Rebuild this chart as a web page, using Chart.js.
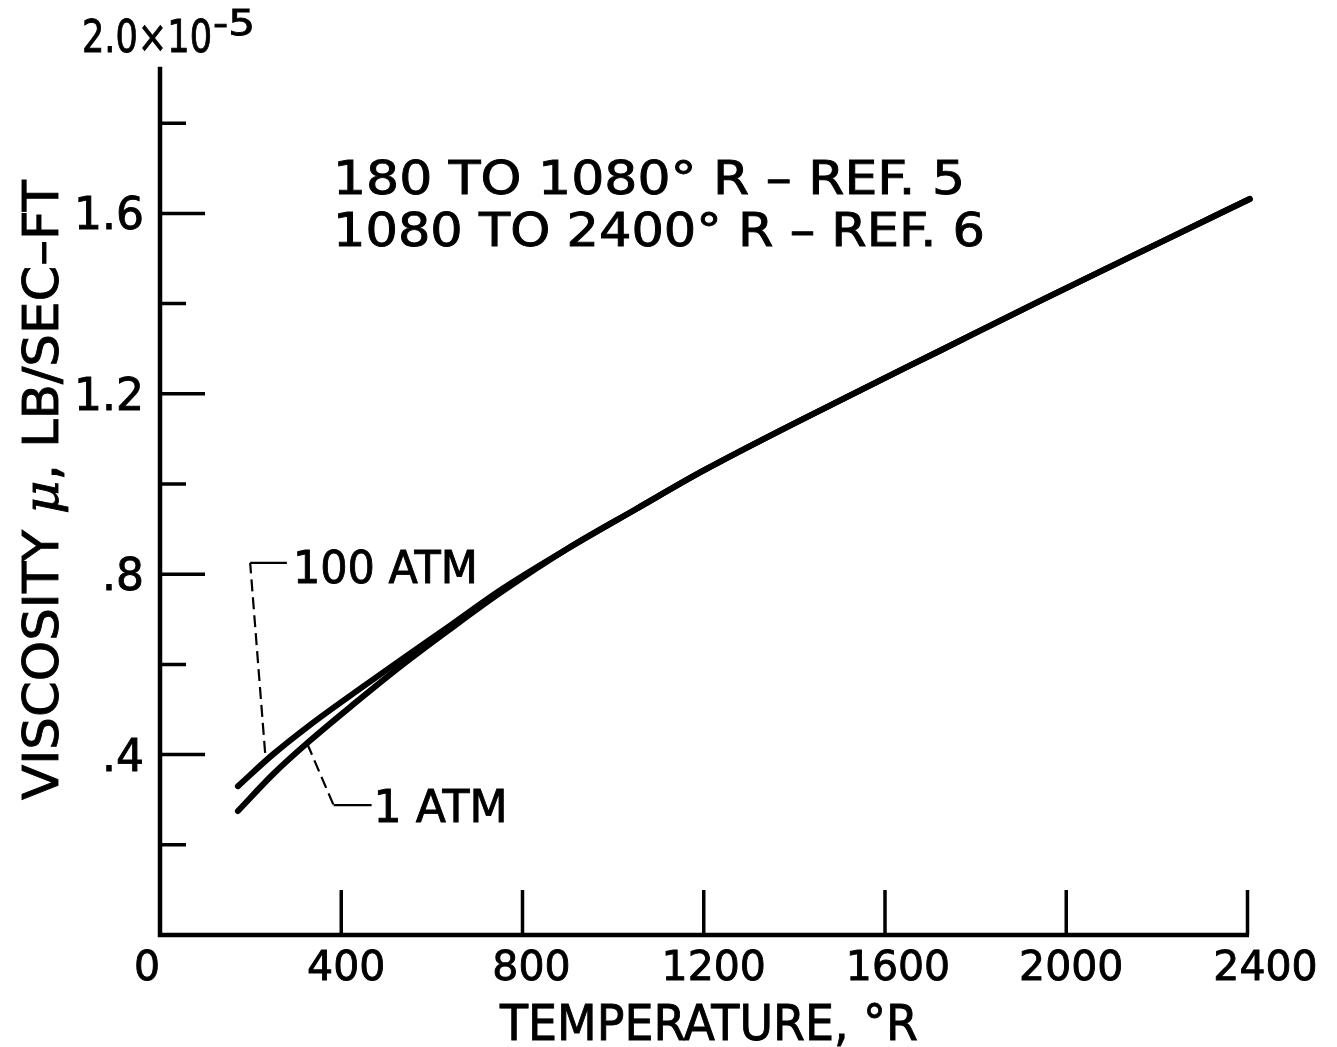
<!DOCTYPE html>
<html><head><meta charset="utf-8">
<script src="https://cdn.jsdelivr.net/npm/chart.js@4.4.0/dist/chart.umd.min.js"></script>
<style>html,body{margin:0;padding:0;background:#fff;overflow:hidden}#wrap{width:1337px;height:1047px;position:relative}</style>
</head><body><div id="wrap"><canvas id="c"></canvas></div>
<script>
// ---- data ----
const temperatures = [172, 250, 330, 430, 530, 640, 750, 900, 1050, 1200, 1500, 1720, 1940, 2235, 2405];
const visc100atm   = [0.330, 0.401, 0.465, 0.538, 0.609, 0.686, 0.764, 0.857, 0.944, 1.030, 1.185, 1.295, 1.405, 1.549, 1.632];
const visc1atm     = [0.275, 0.357, 0.430, 0.514, 0.595, 0.678, 0.758, 0.857, 0.944, 1.030, 1.185, 1.295, 1.405, 1.549, 1.632];
const xTickValues = [0, 400, 800, 1200, 1600, 2000, 2400];
const xTickLabels = ['0', '400', '800', '1200', '1600', '2000', '2400'];
const yMajorValues = [0.4, 0.8, 1.2, 1.6];
const yMajorLabels = ['.4', '.8', '1.2', '1.6'];
const yMinorValues = [0.2, 0.6, 1.0, 1.4, 1.8];
const yTopValue = 2.0;
const yTopLabel = '2.0×10';
const yTopExponent = '-5';
const xTitle = 'TEMPERATURE, °R';
const yTitleParts = ['VISCOSITY ', 'μ', ', LB/SEC–FT'];
const noteLines = ['180 TO 1080° R – REF. 5', '1080 TO 2400° R – REF. 6'];
const seriesNames = ['100 ATM', '1 ATM'];
// leader lines (data coordinates: temperature, viscosity)
const leader100 = [[232, 0.404], [199, 0.825], [280, 0.825]];
const leader1   = [[325, 0.424], [383, 0.288], [467, 0.288]];

const FONT = '"DejaVu Sans", "Liberation Sans", sans-serif';

function fitText(ctx, s, x, baseline, size, width, align) {
  ctx.save();
  ctx.font = size + 'px ' + FONT;
  ctx.textAlign = 'left';
  ctx.textBaseline = 'alphabetic';
  const w = ctx.measureText(s).width;
  const sx = width ? width / w : 1;
  ctx.translate(x, baseline);
  ctx.scale(sx, 1);
  let x0 = 0;
  if (align === 'center') x0 = -w / 2;
  else if (align === 'right') x0 = -w;
  ctx.fillStyle = '#000';
  ctx.strokeStyle = '#000';
  ctx.lineWidth = 0.9;
  ctx.fillText(s, x0, 0);
  ctx.strokeText(s, x0, 0);
  ctx.restore();
}

const axesPlugin = {
  id: 'axesPlugin',
  beforeDatasetsDraw(chart) {
    const ctx = chart.ctx, xs = chart.scales.x, ys = chart.scales.y;
    const x0 = xs.getPixelForValue(0), y0 = ys.getPixelForValue(0);
    ctx.save();
    ctx.strokeStyle = '#000';
    ctx.lineCap = 'butt';
    ctx.lineWidth = 4.5;
    ctx.beginPath();
    ctx.moveTo(x0, ys.getPixelForValue(1.925));
    ctx.lineTo(x0, y0 + 2);
    ctx.moveTo(x0 - 2, y0);
    ctx.lineTo(xs.getPixelForValue(2400) + 1.5, y0);
    ctx.stroke();
    ctx.lineWidth = 3.5;
    ctx.beginPath();
    xTickValues.forEach(v => {
      if (v === 0) return;
      const px = xs.getPixelForValue(v);
      ctx.moveTo(px, y0);
      ctx.lineTo(px, y0 - 45);
    });
    yMajorValues.forEach(v => {
      const py = ys.getPixelForValue(v);
      ctx.moveTo(x0, py);
      ctx.lineTo(x0 + 45, py);
    });
    yMinorValues.forEach(v => {
      const py = ys.getPixelForValue(v);
      ctx.moveTo(x0, py);
      ctx.lineTo(x0 + 26, py);
    });
    ctx.stroke();
    ctx.restore();
  },
  afterDraw(chart) {
    const ctx = chart.ctx, xs = chart.scales.x, ys = chart.scales.y;
    const x0 = xs.getPixelForValue(0), y0 = ys.getPixelForValue(0);
    const xShift = [-13, 5, 9, 10, 13, 5, 18];
    xTickValues.forEach((v, i) => {
      fitText(ctx, xTickLabels[i], xs.getPixelForValue(v) + xShift[i], y0 + 45, 41, null, 'center');
    });
    yMajorValues.forEach((v, i) => {
      fitText(ctx, yMajorLabels[i], x0 - 16, ys.getPixelForValue(v) + 16, 44, null, 'right');
    });
    const yt = ys.getPixelForValue(yTopValue);
    fitText(ctx, yTopLabel, x0 - 78, yt + 19, 44, 130, 'left');
    fitText(ctx, yTopExponent, x0 + 53, yt + 2, 36, 42, 'left');
    fitText(ctx, xTitle, 709, 1040, 49, 418, 'center');
    ctx.save();
    ctx.translate(58, 490);
    ctx.rotate(-Math.PI / 2);
    const size = 49;
    const fonts = [size + 'px ' + FONT, 'italic ' + size + 'px "DejaVu Serif", "Liberation Serif", serif', size + 'px ' + FONT];
    const widths = yTitleParts.map((p, i) => { ctx.font = fonts[i]; return ctx.measureText(p).width; });
    const total = widths.reduce((a, b) => a + b, 0);
    ctx.scale(620 / total, 1);
    let cx = -total / 2;
    ctx.fillStyle = '#000'; ctx.strokeStyle = '#000'; ctx.lineWidth = 0.9;
    ctx.textBaseline = 'alphabetic'; ctx.textAlign = 'left';
    yTitleParts.forEach((p, i) => {
      ctx.font = fonts[i];
      ctx.fillText(p, cx, 0);
      ctx.strokeText(p, cx, 0);
      cx += widths[i];
    });
    ctx.restore();
    fitText(ctx, noteLines[0], 333, 194, 46, 632, 'left');
    fitText(ctx, noteLines[1], 333, 246, 46, 652, 'left');
    const drawLeader = (pts) => {
      const p = pts.map(([t, v]) => [xs.getPixelForValue(t), ys.getPixelForValue(v)]);
      ctx.save();
      ctx.strokeStyle = '#000';
      ctx.lineWidth = 2.2;
      ctx.setLineDash([12, 6]);
      ctx.beginPath();
      ctx.moveTo(p[0][0], p[0][1]);
      ctx.lineTo(p[1][0], p[1][1]);
      ctx.stroke();
      ctx.setLineDash([]);
      ctx.beginPath();
      ctx.moveTo(p[1][0], p[1][1]);
      ctx.lineTo(p[2][0], p[2][1]);
      ctx.stroke();
      ctx.restore();
      return p[2];
    };
    const e100 = drawLeader(leader100);
    const e1 = drawLeader(leader1);
    fitText(ctx, seriesNames[0], e100[0] + 6, e100[1] + 20, 44, 185, 'left');
    fitText(ctx, seriesNames[1], e1[0] + 2, e1[1] + 17, 45, 134, 'left');
  }
};

new Chart(document.getElementById('c'), {
  type: 'line',
  data: {
    datasets: [
      { label: seriesNames[0], data: temperatures.map((t, i) => ({ x: t, y: visc100atm[i] })),
        borderColor: '#000', borderWidth: 6, pointRadius: 0, cubicInterpolationMode: 'monotone',
        borderCapStyle: 'round', borderJoinStyle: 'round', fill: false, clip: false },
      { label: seriesNames[1], data: temperatures.map((t, i) => ({ x: t, y: visc1atm[i] })),
        borderColor: '#000', borderWidth: 6, pointRadius: 0, cubicInterpolationMode: 'monotone',
        borderCapStyle: 'round', borderJoinStyle: 'round', fill: false, clip: false }
    ]
  },
  options: {
    responsive: true,
    maintainAspectRatio: false,
    animation: false,
    events: [],
    layout: { padding: { left: 160, right: 89.5, top: 33, bottom: 112 } },
    plugins: { legend: { display: false }, tooltip: { enabled: false }, title: { display: false } },
    scales: {
      x: { type: 'linear', min: 0, max: 2400, display: false },
      y: { type: 'linear', min: 0, max: 2.0, display: false }
    }
  },
  plugins: [axesPlugin]
});
</script>
</body></html>
